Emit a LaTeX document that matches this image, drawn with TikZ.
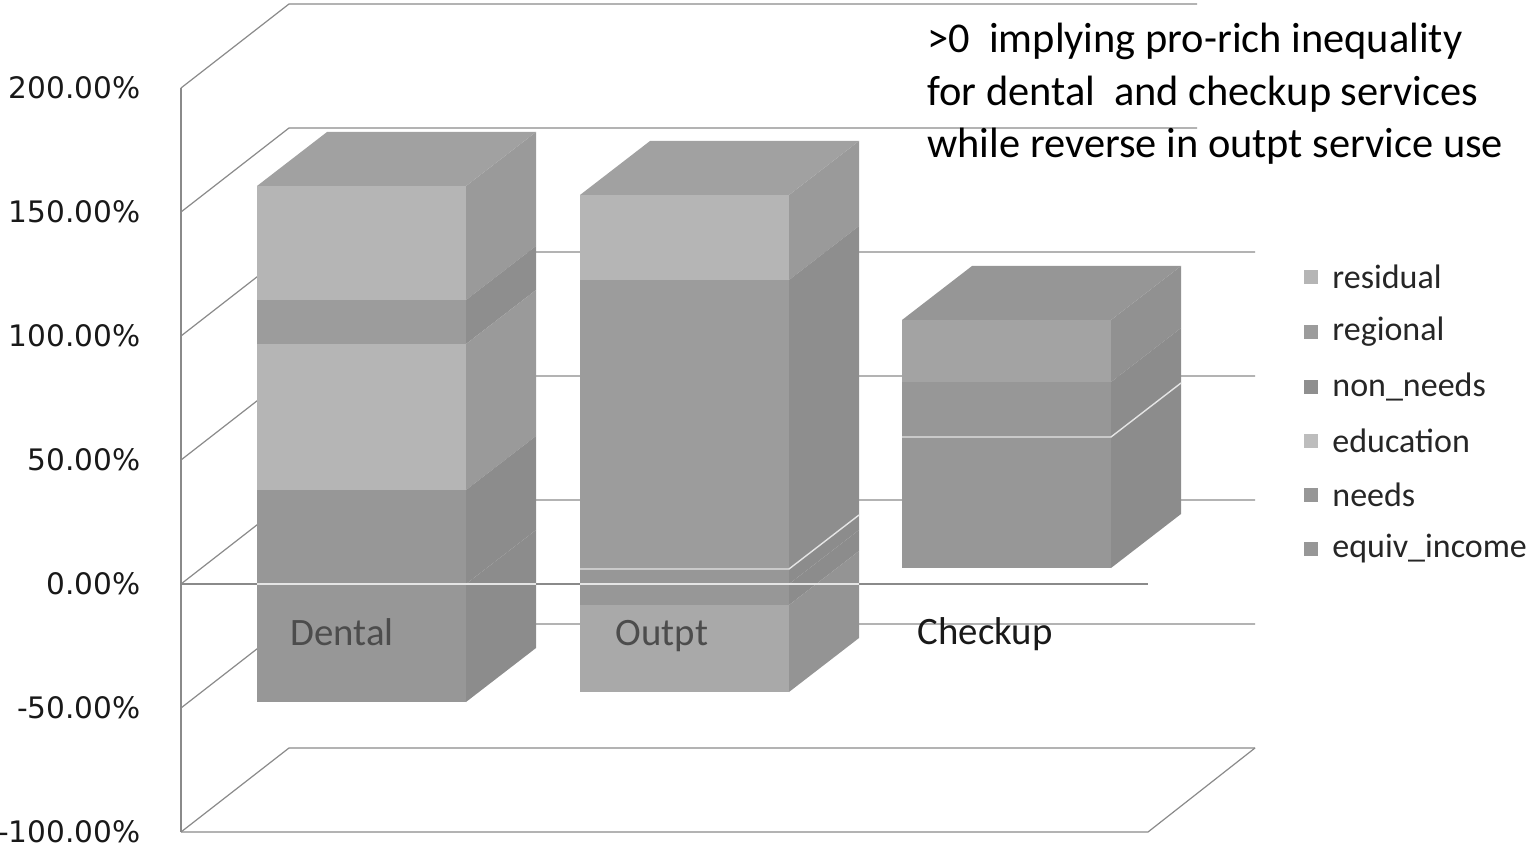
\documentclass[tikz,border=0pt]{standalone}
\usepackage{fontspec}
\setmainfont{Carlito}
\newfontfamily\axisfont{DejaVu Sans}
\definecolor{gridc}{HTML}{8A8A8A}
\definecolor{sideC}{HTML}{838383}
\definecolor{cLight}{HTML}{B5B5B5}
\definecolor{cMid}{HTML}{9C9C9C}
\definecolor{cDark}{HTML}{979797}
\definecolor{cPale}{HTML}{A9A9A9}
\definecolor{cTop}{HTML}{A3A3A3}
\definecolor{cEduc}{HTML}{BDBDBD}
\definecolor{cNon}{HTML}{8F8F8F}
\newcommand\barseg[4]{%
  \fill[#4] (#1,#2) rectangle (#1+209,#3);
  \fill[#4!45!sideC] (#1+209,#2) -- ++(70,-54) -- (#1+279,#3-54) -- (#1+209,#3) -- cycle;}
\newcommand\bartop[3]{%
  \fill[#3!60!sideC] (#1,#2) -- ++(70,-54) -- ++(209,0) -- ++(-70,54) -- cycle;}
\begin{document}
\begin{tikzpicture}[x=0.5pt,y=-0.5pt,line join=round,
  grid/.style={draw=gridc,line width=0.6pt},
  sepline/.style={draw=white!80!gray,line width=0.7pt},
  axlab/.style={anchor=east,inner sep=0pt,font=\axisfont\fontsize{14.8}{17}\selectfont,text=black!90},
  catlab/.style={anchor=base,inner sep=0pt,font=\fontsize{19.4}{23}\selectfont},
  leglab/.style={anchor=west,inner sep=0pt,font=\fontsize{17}{20}\selectfont,text=black!85},
  legbox/.style={minimum size=7pt,inner sep=0pt}]
\useasboundingbox (0,0) rectangle (1529,854);
% walls and grid
\draw[grid] (181,88) -- (181,832);
\foreach \k in {-2,...,2}
  \draw[grid] (181,{584-124*\k}) -- ++(108,-84) -- ++(966,0);
\foreach \k in {3,4}
  \draw[grid] (181,{584-124*\k}) -- ++(108,-84) -- ++(908,0);
\draw[grid] (181,832) -- (1148,832) -- (1255,748);
\draw[grid] (181,584) -- (1148,584);
\foreach \v/\k in {200.00\%/4,150.00\%/3,100.00\%/2,50.00\%/1,0.00\%/0,-50.00\%/-1,-100.00\%/-2}
  \node[axlab] (tick\k) at (141,{584-124*\k}) {\v};
% Dental
\barseg{257}{186}{300}{cLight}
\barseg{257}{300}{344}{cMid}
\barseg{257}{344}{490}{cLight}
\barseg{257}{490}{584}{cDark}
\barseg{257}{584}{702}{cDark}
\bartop{257}{186}{cLight}
% Outpt
\barseg{580}{195}{280}{cLight}
\barseg{580}{280}{569}{cMid}
\barseg{580}{569}{584}{cDark}
\barseg{580}{584}{605}{cDark}
\barseg{580}{605}{692}{cPale}
\bartop{580}{195}{cLight}
% Checkup
\barseg{902}{320}{382}{cTop}
\barseg{902}{382}{437}{cDark}
\barseg{902}{437}{568}{cDark}
\bartop{902}{320}{cTop}
\draw[sepline] (580,569) -- (789,569) -- ++(70,-54);
\draw[sepline] (902,437) -- (1111,437) -- ++(70,-54);
\draw[sepline] (257,584) -- (536,584);
\draw[sepline] (580,584) -- (859,584);
\node[catlab,text=black!70] (dental) at (342,645) {Dental};
\node[catlab,text=black!70] (outpt) at (662,645) {Outpt};
\node[catlab,text=black!90] (checkup) at (985,644) {Checkup};
% legend
\foreach \t/\c/\y in {residual/cLight/277,regional/cMid/332,non\_needs/cNon/387,education/cEduc/441,needs/cDark/495,equiv\_income/cDark/549}{
  \node[legbox,fill=\c] (box\y) at (1311,\y) {};
  \node[leglab] (leg\y) at (1332,\y) {\t};
}
\node[anchor=west,inner sep=0pt,align=left,font=\fontsize{21.2}{26.2}\selectfont] (note) at (927,94)
  {>0\ \ implying pro-rich inequality\\for dental\ \ and checkup services\\while reverse in outpt service use};
\end{tikzpicture}
\end{document}
